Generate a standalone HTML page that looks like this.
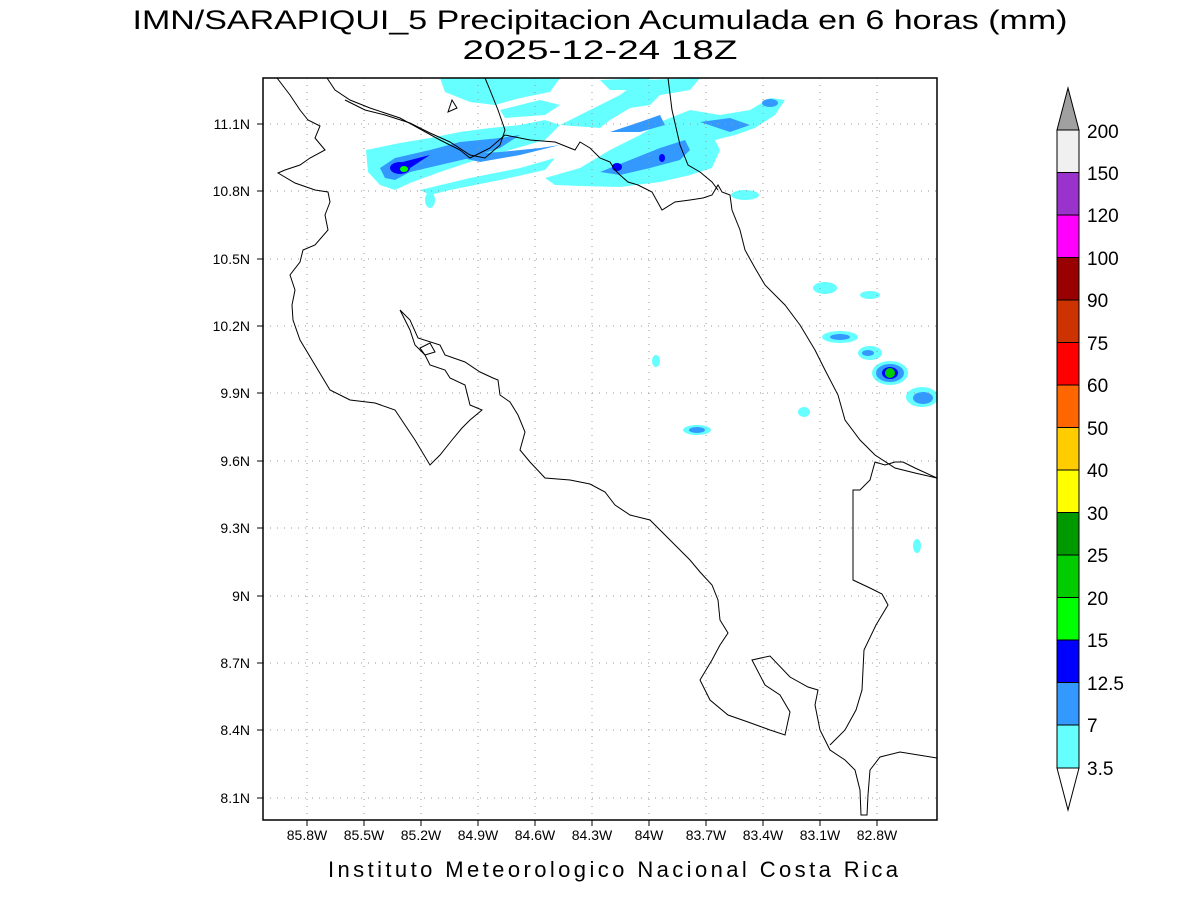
<!DOCTYPE html>
<html><head><meta charset="utf-8"><style>
body{margin:0;background:#fff;width:1200px;height:900px;overflow:hidden}
svg{display:block}
text{font-family:"Liberation Sans",sans-serif;fill:#000}
</style></head><body>
<svg width="1200" height="900" viewBox="0 0 1200 900">
<text x="600" y="29" font-size="27" text-anchor="middle" textLength="935" lengthAdjust="spacingAndGlyphs" fill="#222">IMN/SARAPIQUI_5 Precipitacion Acumulada en 6 horas (mm)</text>
<text x="600" y="59" font-size="27" text-anchor="middle" textLength="275" lengthAdjust="spacingAndGlyphs" fill="#222">2025-12-24 18Z</text>
<defs><clipPath id="c"><rect x="263" y="78" width="674" height="742"/></clipPath></defs>
<g clip-path="url(#c)">
<g fill="#66ffff">
<path d="M366 150 L400 143 L430 138 L460 132 L490 128 L520 125 L545 120 L560 125 L545 140 L510 150 L470 162 L440 172 L410 183 L395 190 L380 185 L368 172 Z"/>
<path d="M420 190 L470 178 L520 168 L555 158 L545 170 L500 180 L450 190 L430 195 Z"/>
<path d="M440 78 L560 78 L550 92 L520 98 L495 105 L470 102 L445 92 Z"/>
<path d="M500 110 L540 100 L560 105 L545 115 L505 118 Z"/>
<path d="M560 125 L590 110 L620 95 L640 80 L700 78 L690 90 L660 95 L650 105 L630 108 L610 120 L600 128 Z"/>
<path d="M600 80 L650 78 L640 90 L610 90 Z"/>
<path d="M545 178 L580 168 L610 150 L640 135 L665 120 L690 110 L720 115 L750 110 L770 98 L785 100 L775 115 L755 128 L735 135 L715 140 L720 150 L712 168 L690 175 L660 182 L620 187 L580 186 L555 185 Z"/>
<ellipse cx="430" cy="200" rx="5" ry="8"/>
<ellipse cx="745" cy="195" rx="14" ry="5"/>
<ellipse cx="825" cy="288" rx="12" ry="6"/>
<ellipse cx="870" cy="295" rx="10" ry="4"/>
<ellipse cx="840" cy="337" rx="18" ry="6"/>
<ellipse cx="870" cy="353" rx="12" ry="7"/>
<ellipse cx="890" cy="373" rx="18" ry="12"/>
<ellipse cx="922" cy="397" rx="16" ry="10"/>
<ellipse cx="656" cy="361" rx="4" ry="6"/>
<ellipse cx="697" cy="430" rx="14" ry="5"/>
<ellipse cx="804" cy="412" rx="6" ry="5"/>
<ellipse cx="917" cy="546" rx="4" ry="7"/>
</g>
<g fill="#3399ff">
<path d="M380 168 L395 158 L430 150 L460 142 L500 138 L520 135 L500 148 L470 158 L440 165 L410 172 L395 180 L385 178 Z"/>
<path d="M450 155 L500 152 L540 148 L560 145 L520 155 L480 162 Z"/>
<path d="M600 172 L630 160 L660 148 L685 140 L690 150 L680 160 L650 168 L620 175 Z"/>
<path d="M610 132 L640 122 L660 115 L665 125 L640 132 Z"/>
<path d="M700 122 L730 118 L750 125 L730 132 Z"/>
<ellipse cx="770" cy="103" rx="8" ry="4"/>
<ellipse cx="890" cy="373" rx="14" ry="9"/>
<ellipse cx="840" cy="337" rx="10" ry="3"/>
<ellipse cx="868" cy="353" rx="6" ry="3"/>
<ellipse cx="923" cy="398" rx="10" ry="6"/>
<ellipse cx="697" cy="430" rx="8" ry="3"/>
</g>
<g fill="#0000ff">
<ellipse cx="400" cy="168" rx="10" ry="6"/>
<path d="M395 164 L430 155 L410 168 Z"/>
<ellipse cx="617" cy="167" rx="5" ry="4"/>
<ellipse cx="662" cy="158" rx="3" ry="4"/>
<ellipse cx="890" cy="373" rx="8" ry="6"/>
</g>
<ellipse cx="404" cy="169" rx="4" ry="3" fill="#00ff00"/>
<ellipse cx="890" cy="373" rx="5" ry="5" fill="#00cc00"/>
<g stroke="#999" stroke-width="1" stroke-dasharray="1 6">
<line x1="307" y1="78" x2="307" y2="820"/><line x1="364" y1="78" x2="364" y2="820"/><line x1="421" y1="78" x2="421" y2="820"/><line x1="478" y1="78" x2="478" y2="820"/><line x1="535" y1="78" x2="535" y2="820"/><line x1="592" y1="78" x2="592" y2="820"/><line x1="649" y1="78" x2="649" y2="820"/><line x1="706" y1="78" x2="706" y2="820"/><line x1="763" y1="78" x2="763" y2="820"/><line x1="820" y1="78" x2="820" y2="820"/><line x1="877" y1="78" x2="877" y2="820"/>
<line x1="263" y1="124" x2="937" y2="124"/><line x1="263" y1="191" x2="937" y2="191"/><line x1="263" y1="259" x2="937" y2="259"/><line x1="263" y1="326" x2="937" y2="326"/><line x1="263" y1="393" x2="937" y2="393"/><line x1="263" y1="461" x2="937" y2="461"/><line x1="263" y1="528" x2="937" y2="528"/><line x1="263" y1="596" x2="937" y2="596"/><line x1="263" y1="663" x2="937" y2="663"/><line x1="263" y1="730" x2="937" y2="730"/><line x1="263" y1="798" x2="937" y2="798"/>
</g>
<g fill="none" stroke="#000" stroke-width="1">
<polyline points="277,78 290,95 300,110 308,120 320,126 315,138 325,150 310,158 300,165 285,170 278,173 295,183 315,190 328,192 330,202 325,215 328,230 315,245 303,250 300,262 290,275 295,290 292,305 293,320 300,340 315,365 330,390 350,400 375,403 395,410 405,425 415,440 430,465 440,455 452,440 462,428 470,420 482,410 470,405 465,385 450,378 445,370 430,365 425,355 415,345 410,330 400,310 410,320 418,338 440,345 445,355 465,362 480,372 493,378 498,380 500,395 510,402 518,415 525,432 520,450 530,462 545,478 570,480 590,484 605,492 615,505 630,515 650,520 660,530 675,545 690,560 700,572 712,585 718,600 720,620 728,633 720,645 712,660 700,680 710,700 728,715 748,722 770,730 785,735 790,712 780,695 765,685 752,660 770,656 790,677 808,687 818,690 815,705 820,730 830,750 845,760 855,770 860,790 861,815 867,815 868,795 870,770 880,757 900,752 937,758"/>
<polygon points="420,348 430,343 435,352 425,355"/>
<polygon points="448,112 452,100 457,108"/>
<polyline points="345,100 365,110 385,115 410,123 430,133 450,142 470,155 485,158 500,145 505,130 498,110 490,90 485,78"/>
<polyline points="327,78 335,90 350,100 370,108 400,118 440,140 460,150 470,158 490,148 505,135 530,140 555,142 570,148 575,150 580,142 590,148 600,158 610,162 615,170 620,175 628,182 638,185 652,192 662,210 675,202 690,200 703,198 712,195 718,185 722,192 730,195 732,210 740,230 745,250 755,268 765,285 785,305 800,325 815,350 825,370 838,395 845,420 860,440 875,455 895,468 915,473 937,478"/>
<polyline points="668,78 672,110 680,145 688,165 700,172 712,182 718,190"/>
<polyline points="937,478 915,468 903,462 895,462 885,465 875,462 870,480 860,490 853,490 853,580 870,588 882,594 888,605 876,625 864,650 862,690 856,710 845,730 830,745"/>
</g>
</g>
<rect x="263" y="78" width="674" height="742" fill="none" stroke="#000" stroke-width="1.5"/>
<g stroke="#000"><line x1="307" y1="820" x2="307" y2="826"/><line x1="364" y1="820" x2="364" y2="826"/><line x1="421" y1="820" x2="421" y2="826"/><line x1="478" y1="820" x2="478" y2="826"/><line x1="535" y1="820" x2="535" y2="826"/><line x1="592" y1="820" x2="592" y2="826"/><line x1="649" y1="820" x2="649" y2="826"/><line x1="706" y1="820" x2="706" y2="826"/><line x1="763" y1="820" x2="763" y2="826"/><line x1="820" y1="820" x2="820" y2="826"/><line x1="877" y1="820" x2="877" y2="826"/>
<line x1="257" y1="124" x2="263" y2="124"/><line x1="257" y1="191" x2="263" y2="191"/><line x1="257" y1="259" x2="263" y2="259"/><line x1="257" y1="326" x2="263" y2="326"/><line x1="257" y1="393" x2="263" y2="393"/><line x1="257" y1="461" x2="263" y2="461"/><line x1="257" y1="528" x2="263" y2="528"/><line x1="257" y1="596" x2="263" y2="596"/><line x1="257" y1="663" x2="263" y2="663"/><line x1="257" y1="730" x2="263" y2="730"/><line x1="257" y1="798" x2="263" y2="798"/></g>
<g font-size="14" text-anchor="middle">
<text x="307" y="840">85.8W</text><text x="364" y="840">85.5W</text><text x="421" y="840">85.2W</text><text x="478" y="840">84.9W</text><text x="535" y="840">84.6W</text><text x="592" y="840">84.3W</text><text x="649" y="840">84W</text><text x="706" y="840">83.7W</text><text x="763" y="840">83.4W</text><text x="820" y="840">83.1W</text><text x="877" y="840">82.8W</text>
</g>
<g font-size="14" text-anchor="end">
<text x="250" y="129">11.1N</text><text x="250" y="196">10.8N</text><text x="250" y="264">10.5N</text><text x="250" y="331">10.2N</text><text x="250" y="398">9.9N</text><text x="250" y="466">9.6N</text><text x="250" y="533">9.3N</text><text x="250" y="601">9N</text><text x="250" y="668">8.7N</text><text x="250" y="735">8.4N</text><text x="250" y="803">8.1N</text>
</g>
<text x="613" y="877" font-size="22" text-anchor="middle" textLength="570" lengthAdjust="spacing" fill="#333">Instituto Meteorologico Nacional Costa Rica</text>
<g stroke="#000" stroke-width="1">
<polygon points="1057,130 1079,130 1068,88" fill="#a0a0a0"/>
<rect x="1057" y="130" width="22" height="42.5" fill="#f0f0f0"/>
<rect x="1057" y="172.5" width="22" height="42.5" fill="#9933cc"/>
<rect x="1057" y="215" width="22" height="42.5" fill="#ff00ff"/>
<rect x="1057" y="257.5" width="22" height="42.5" fill="#990000"/>
<rect x="1057" y="300" width="22" height="42.5" fill="#cc3300"/>
<rect x="1057" y="342.5" width="22" height="42.5" fill="#ff0000"/>
<rect x="1057" y="385" width="22" height="42.5" fill="#ff6600"/>
<rect x="1057" y="427.5" width="22" height="42.5" fill="#ffcc00"/>
<rect x="1057" y="470" width="22" height="42.5" fill="#ffff00"/>
<rect x="1057" y="512.5" width="22" height="42.5" fill="#009900"/>
<rect x="1057" y="555" width="22" height="42.5" fill="#00cc00"/>
<rect x="1057" y="597.5" width="22" height="42.5" fill="#00ff00"/>
<rect x="1057" y="640" width="22" height="42.5" fill="#0000ff"/>
<rect x="1057" y="682.5" width="22" height="42.5" fill="#3399ff"/>
<rect x="1057" y="725" width="22" height="43" fill="#66ffff"/>
<polygon points="1057,768 1079,768 1068,810" fill="#fff"/>
</g>
<g font-size="19">
<text x="1087" y="138">200</text><text x="1087" y="180">150</text><text x="1087" y="222">120</text><text x="1087" y="265">100</text><text x="1087" y="307">90</text><text x="1087" y="350">75</text><text x="1087" y="392">60</text><text x="1087" y="435">50</text><text x="1087" y="477">40</text><text x="1087" y="520">30</text><text x="1087" y="562">25</text><text x="1087" y="605">20</text><text x="1087" y="647">15</text><text x="1087" y="690">12.5</text><text x="1087" y="732">7</text><text x="1087" y="775">3.5</text>
</g>
</svg>
</body></html>
